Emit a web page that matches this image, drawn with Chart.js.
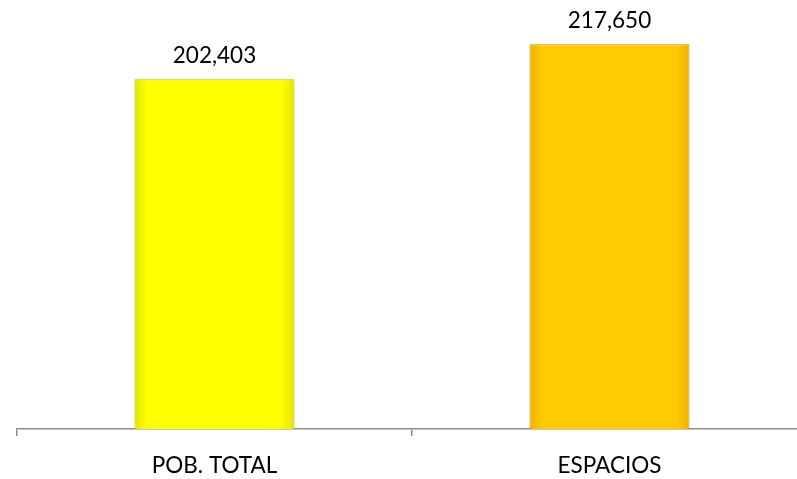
<!DOCTYPE html>
<html>
<head>
<meta charset="utf-8">
<script src="https://cdn.jsdelivr.net/npm/chart.js@4"></script>
<style>
  html, body { margin: 0; padding: 0; background: #fff; overflow: hidden; }
  /* el área de trazado continúa más allá del borde derecho, como en el original */
  #wrap { width: 807px; height: 479px; }
</style>
</head>
<body>
<div id="wrap"><canvas id="chart"></canvas></div>
<script>
// datos
const categorias = ['POB. TOTAL', 'ESPACIOS'];
const valores    = [202403, 217650];
const colores    = ['#ffff00', '#ffcb00'];
const oscuros    = ['#e3e300', '#f0b000'];
const bordes     = ['#b8b800', '#c99000'];

const AXIS_GRAY = '#8c8c8c';
const FONT = 'Lato, "Open Sans", sans-serif';

// degradado horizontal para el efecto biselado
function barFill(c) {
    const i = c.dataIndex;
    const x = c.chart.scales.x;
    if (!x || !c.chart.chartArea) return colores[i];
    const cx = x.getPixelForValue(i);
    const w = x.width / categorias.length * 0.405;
    const g = c.chart.ctx.createLinearGradient(cx - w / 2, 0, cx + w / 2, 0);
    g.addColorStop(0, oscuros[i]);
    g.addColorStop(0.08, colores[i]);
    g.addColorStop(0.92, colores[i]);
    g.addColorStop(1, oscuros[i]);
    return g;
}

// etiquetas de valor sobre cada barra
const valueLabels = {
    id: 'valueLabels',
    afterDatasetsDraw(chart) {
        const ctx = chart.ctx;
        const meta = chart.getDatasetMeta(0);
        ctx.save();
        ctx.font = '22.5px ' + FONT;
        ctx.fillStyle = '#000';
        ctx.textAlign = 'center';
        ctx.textBaseline = 'middle';
        meta.data.forEach((bar, i) => {
            ctx.fillText(valores[i].toLocaleString('en-US'), bar.x, bar.y - 24);
        });
        ctx.restore();
    }
};

new Chart(document.getElementById('chart').getContext('2d'), {
    type: 'bar',
    data: {
        labels: categorias,
        datasets: [{
            data: valores,
            backgroundColor: barFill,
            borderColor: bordes,
            borderWidth: 1,
            barPercentage: 0.405,
            categoryPercentage: 1
        }]
    },
    options: {
        responsive: true, maintainAspectRatio: false, animation: false,
        layout: { padding: { left: 17, right: 0, top: 16, bottom: -16 } },
        plugins: { legend: { display: false }, tooltip: { enabled: false } },
        scales: {
            y: { display: false, min: 50000, max: 230000 },
            x: {
                border: { display: true, color: AXIS_GRAY, width: 1.5 },
                grid: {
                    offset: true, drawOnChartArea: false, tickLength: 7,
                    lineWidth: 1.5, color: AXIS_GRAY
                },
                ticks: { color: '#000', padding: 16, font: { family: FONT, size: 22.5 } }
            }
        }
    },
    plugins: [valueLabels]
});
</script>
</body>
</html>
